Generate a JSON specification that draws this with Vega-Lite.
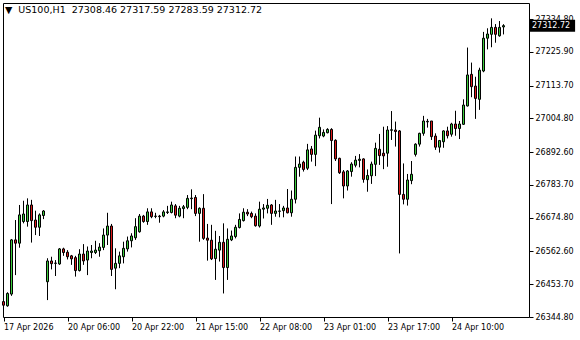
{
"$schema": "https://vega.github.io/schema/vega-lite/v6.json",
"width": 526, "height": 314,
"autosize": {"type": "none"},
"padding": {"left": 3, "top": 3, "right": 51, "bottom": 23},
"background": "white",
"config": {"view": {"stroke": "black", "strokeWidth": 1}, "axis": {"labelFont": "DejaVu Sans", "labelFontSize": 8, "labelColor": "black", "tickColor": "black", "domain": false, "grid": false, "ticks": true, "tickSize": 4, "labelFlush": false, "labelOverlap": false, "title": null}},
"datasets": {
"bars": [
{"i":0,"o":26396,"h":26405,"l":26362,"c":26384},
{"i":1,"o":26382,"h":26427,"l":26379,"c":26423},
{"i":2,"o":26421,"h":26604,"l":26415,"c":26601},
{"i":3,"o":26601,"h":26667,"l":26484,"c":26590},
{"i":4,"o":26590,"h":26717,"l":26575,"c":26684},
{"i":5,"o":26662,"h":26731,"l":26656,"c":26687},
{"i":6,"o":26662,"h":26739,"l":26645,"c":26717},
{"i":7,"o":26717,"h":26734,"l":26592,"c":26665},
{"i":8,"o":26667,"h":26698,"l":26617,"c":26643},
{"i":9,"o":26643,"h":26689,"l":26614,"c":26684},
{"i":10,"o":26682,"h":26700,"l":26670,"c":26697},
{"i":11,"o":26462,"h":26540,"l":26401,"c":26531},
{"i":12,"o":26531,"h":26545,"l":26503,"c":26522},
{"i":13,"o":26523,"h":26534,"l":26481,"c":26524},
{"i":14,"o":26521,"h":26574,"l":26518,"c":26571},
{"i":15,"o":26571,"h":26575,"l":26548,"c":26559},
{"i":16,"o":26560,"h":26567,"l":26536,"c":26545},
{"i":17,"o":26548,"h":26551,"l":26518,"c":26538},
{"i":18,"o":26542,"h":26548,"l":26479,"c":26499},
{"i":19,"o":26499,"h":26570,"l":26496,"c":26554},
{"i":20,"o":26554,"h":26587,"l":26518,"c":26531},
{"i":21,"o":26534,"h":26579,"l":26484,"c":26564},
{"i":22,"o":26559,"h":26584,"l":26540,"c":26564},
{"i":23,"o":26559,"h":26598,"l":26554,"c":26567},
{"i":24,"o":26565,"h":26590,"l":26545,"c":26577},
{"i":25,"o":26576,"h":26639,"l":26567,"c":26617},
{"i":26,"o":26617,"h":26691,"l":26584,"c":26647},
{"i":27,"o":26647,"h":26654,"l":26481,"c":26503},
{"i":28,"o":26507,"h":26573,"l":26437,"c":26523},
{"i":29,"o":26523,"h":26562,"l":26507,"c":26548},
{"i":30,"o":26545,"h":26595,"l":26523,"c":26573},
{"i":31,"o":26571,"h":26612,"l":26562,"c":26598},
{"i":32,"o":26598,"h":26623,"l":26576,"c":26614},
{"i":33,"o":26608,"h":26673,"l":26601,"c":26645},
{"i":34,"o":26628,"h":26687,"l":26625,"c":26680},
{"i":35,"o":26680,"h":26684,"l":26658,"c":26662},
{"i":36,"o":26662,"h":26706,"l":26651,"c":26694},
{"i":37,"o":26694,"h":26706,"l":26673,"c":26678},
{"i":38,"o":26679,"h":26691,"l":26673,"c":26680},
{"i":39,"o":26680,"h":26684,"l":26658,"c":26678},
{"i":40,"o":26680,"h":26700,"l":26676,"c":26694},
{"i":41,"o":26692,"h":26714,"l":26687,"c":26694},
{"i":42,"o":26692,"h":26728,"l":26689,"c":26717},
{"i":43,"o":26714,"h":26720,"l":26673,"c":26683},
{"i":44,"o":26680,"h":26714,"l":26676,"c":26706},
{"i":45,"o":26705,"h":26717,"l":26673,"c":26711},
{"i":46,"o":26709,"h":26750,"l":26703,"c":26739},
{"i":47,"o":26738,"h":26769,"l":26703,"c":26740},
{"i":48,"o":26742,"h":26750,"l":26680,"c":26689},
{"i":49,"o":26689,"h":26709,"l":26595,"c":26706},
{"i":50,"o":26706,"h":26753,"l":26601,"c":26606},
{"i":51,"o":26607,"h":26654,"l":26532,"c":26600},
{"i":52,"o":26600,"h":26651,"l":26534,"c":26538},
{"i":53,"o":26539,"h":26631,"l":26468,"c":26570},
{"i":54,"o":26567,"h":26614,"l":26529,"c":26593},
{"i":55,"o":26593,"h":26656,"l":26423,"c":26509},
{"i":56,"o":26509,"h":26639,"l":26468,"c":26603},
{"i":57,"o":26601,"h":26632,"l":26597,"c":26614},
{"i":58,"o":26612,"h":26651,"l":26606,"c":26643},
{"i":59,"o":26642,"h":26689,"l":26639,"c":26669},
{"i":60,"o":26665,"h":26706,"l":26662,"c":26693},
{"i":61,"o":26693,"h":26703,"l":26680,"c":26687},
{"i":62,"o":26689,"h":26695,"l":26673,"c":26678},
{"i":63,"o":26680,"h":26689,"l":26645,"c":26648},
{"i":64,"o":26647,"h":26728,"l":26642,"c":26703},
{"i":65,"o":26703,"h":26720,"l":26672,"c":26707},
{"i":66,"o":26706,"h":26737,"l":26689,"c":26716},
{"i":67,"o":26717,"h":26720,"l":26651,"c":26689},
{"i":68,"o":26689,"h":26734,"l":26678,"c":26697},
{"i":69,"o":26696,"h":26720,"l":26676,"c":26697},
{"i":70,"o":26698,"h":26714,"l":26676,"c":26707},
{"i":71,"o":26707,"h":26770,"l":26689,"c":26691},
{"i":72,"o":26691,"h":26765,"l":26678,"c":26736},
{"i":73,"o":26736,"h":26878,"l":26722,"c":26842},
{"i":74,"o":26842,"h":26878,"l":26811,"c":26853},
{"i":75,"o":26859,"h":26864,"l":26828,"c":26835},
{"i":76,"o":26839,"h":26920,"l":26833,"c":26900},
{"i":77,"o":26903,"h":26913,"l":26861,"c":26885},
{"i":78,"o":26885,"h":26964,"l":26846,"c":26949},
{"i":79,"o":26947,"h":27007,"l":26938,"c":26975},
{"i":80,"o":26946,"h":26968,"l":26942,"c":26958},
{"i":81,"o":26957,"h":26972,"l":26955,"c":26968},
{"i":82,"o":26968,"h":26972,"l":26720,"c":26931},
{"i":83,"o":26932,"h":26935,"l":26863,"c":26870},
{"i":84,"o":26872,"h":26874,"l":26820,"c":26824},
{"i":85,"o":26827,"h":26833,"l":26739,"c":26780},
{"i":86,"o":26780,"h":26833,"l":26765,"c":26830},
{"i":87,"o":26828,"h":26859,"l":26811,"c":26853},
{"i":88,"o":26849,"h":26880,"l":26842,"c":26866},
{"i":89,"o":26865,"h":26886,"l":26842,"c":26869},
{"i":90,"o":26870,"h":26872,"l":26791,"c":26802},
{"i":91,"o":26801,"h":26835,"l":26761,"c":26815},
{"i":92,"o":26814,"h":26861,"l":26787,"c":26853},
{"i":93,"o":26852,"h":26924,"l":26813,"c":26905},
{"i":94,"o":26902,"h":26953,"l":26850,"c":26881},
{"i":95,"o":26889,"h":26977,"l":26836,"c":26880},
{"i":96,"o":26889,"h":26979,"l":26844,"c":26966},
{"i":97,"o":26965,"h":27029,"l":26933,"c":26967},
{"i":98,"o":26966,"h":26994,"l":26911,"c":26961},
{"i":99,"o":26963,"h":26966,"l":26556,"c":26752},
{"i":100,"o":26752,"h":26855,"l":26719,"c":26736},
{"i":101,"o":26736,"h":26820,"l":26715,"c":26800},
{"i":102,"o":26798,"h":26863,"l":26786,"c":26819},
{"i":103,"o":26885,"h":26922,"l":26878,"c":26919},
{"i":104,"o":26919,"h":26957,"l":26911,"c":26955},
{"i":105,"o":26955,"h":27013,"l":26947,"c":26996},
{"i":106,"o":26993,"h":27003,"l":26974,"c":26995},
{"i":107,"o":26996,"h":26996,"l":26933,"c":26944},
{"i":108,"o":26946,"h":26955,"l":26900,"c":26909},
{"i":109,"o":26909,"h":26933,"l":26891,"c":26931},
{"i":110,"o":26927,"h":26965,"l":26907,"c":26963},
{"i":111,"o":26963,"h":26977,"l":26938,"c":26947},
{"i":112,"o":26952,"h":26990,"l":26944,"c":26986},
{"i":113,"o":26986,"h":27030,"l":26947,"c":26971},
{"i":114,"o":26971,"h":26996,"l":26936,"c":26986},
{"i":115,"o":26985,"h":27068,"l":26983,"c":27049},
{"i":116,"o":27046,"h":27240,"l":27044,"c":27149},
{"i":117,"o":27151,"h":27190,"l":27075,"c":27110},
{"i":118,"o":27112,"h":27143,"l":27003,"c":27071},
{"i":119,"o":27068,"h":27173,"l":27033,"c":27165},
{"i":120,"o":27162,"h":27292,"l":27158,"c":27271},
{"i":121,"o":27271,"h":27304,"l":27234,"c":27285},
{"i":122,"o":27284,"h":27337,"l":27241,"c":27307},
{"i":123,"o":27307,"h":27318,"l":27256,"c":27284},
{"i":124,"o":27279,"h":27328,"l":27276,"c":27307},
{"i":125,"o":27308.46,"h":27317.59,"l":27283.59,"c":27312.72}
],
"last": [{"price": 27312.72}],
"hdr": [{"label": "▼\u00a0 US100,H1\u00a0 27308.46 27317.59 27283.59 27312.72"}]
},
"layer": [
{"data": {"name": "bars"}, "mark": {"type": "rule", "color": "black", "strokeWidth": 1},
 "encoding": {
  "x": {"field": "i", "type": "quantitative", "scale": {"domain": [-0.125, 131.375], "nice": false, "zero": false, "padding": 0},
        "axis": {"orient": "bottom", "values": [0, 16, 32, 48, 64, 80, 96, 112], "tickCount": 50, "labelAlign": "left", "labelBaseline": "top", "labelPadding": 2, "labelOverlap": false, "labelFlush": false,
                 "labelExpr": "['17 Apr 2026','20 Apr 06:00','20 Apr 22:00','21 Apr 15:00','22 Apr 08:00','23 Apr 01:00','23 Apr 17:00','24 Apr 10:00'][round(datum.value/16)]"}},
  "y": {"field": "l", "type": "quantitative", "scale": {"domain": [26344.8, 27388], "nice": false, "zero": false, "padding": 0},
        "axis": {"orient": "right", "values": [26344.8, 26453.7, 26562.6, 26674.8, 26783.7, 26892.6, 27004.8, 27113.7, 27225.9, 27334.8], "tickCount": 50, "format": ".2f", "labelPadding": 2, "labelAlign": "left", "labelBaseline": "middle", "labelOverlap": false, "labelFlush": false, "labelBound": false}},
  "y2": {"field": "h"}
 }},
{"data": {"name": "bars"}, "mark": {"type": "bar", "width": 2, "stroke": "black", "strokeWidth": 1},
 "encoding": {
  "x": {"field": "i", "type": "quantitative"},
  "y": {"field": "o", "type": "quantitative"},
  "y2": {"field": "c"},
  "fill": {"condition": {"test": "datum.c >= datum.o", "value": "#3ccc3c"}, "value": "#dd1a1a"}
 }},
{"data": {"name": "last"}, "mark": {"type": "bar", "height": 12, "fill": "black"},
 "encoding": {
  "x": {"datum": 131.375}, "x2": {"datum": 142.9},
  "y": {"field": "price", "type": "quantitative"}
 }},
{"data": {"name": "last"}, "mark": {"type": "text", "color": "white", "align": "left", "baseline": "middle", "font": "DejaVu Sans", "fontSize": 8, "dx": 3},
 "encoding": {
  "x": {"datum": 131.375},
  "y": {"field": "price", "type": "quantitative"},
  "text": {"field": "price", "type": "quantitative", "format": ".2f"}
 }},
{"data": {"name": "hdr"}, "mark": {"type": "text", "color": "black", "align": "left", "baseline": "middle", "font": "DejaVu Sans", "fontSize": 9.5},
 "encoding": {
  "x": {"datum": 0.375},
  "y": {"datum": 27364.7},
  "text": {"field": "label"}
 }}
]
}
